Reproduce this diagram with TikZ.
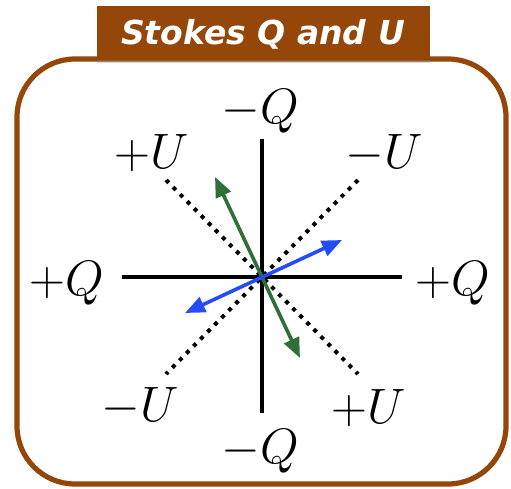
\documentclass[tikz,border=0pt]{standalone}
\usepackage{fontspec}
\newfontfamily\titlefont{DejaVu Sans}
\usepackage{tikz}
\usetikzlibrary{arrows.meta,shadows}
\definecolor{rust}{RGB}{148,71,9}
\definecolor{fern}{RGB}{46,112,58}
\definecolor{azure}{RGB}{37,76,250}
\tikzset{
  frame/.style={draw=rust,line width=2.6pt,rounded corners=29pt,fill=white,
    drop shadow={shadow xshift=1pt,shadow yshift=-1pt,opacity=0.25}},
  titlebar/.style={fill=rust,draw=none,
    drop shadow={shadow xshift=0pt,shadow yshift=-1.5pt,opacity=0.3}},
  axisline/.style={line width=2pt,black},
  diagline/.style={line width=2pt,black,dash pattern=on 2pt off 3pt},
  pol/.style={line width=1.8pt,{Triangle[length=10pt,width=8pt]}-{Triangle[length=10pt,width=8pt]}},
  lbl/.style={font=\fontsize{24.88}{28}\selectfont,inner sep=0pt,anchor=base}
}

\begin{document}
\begin{tikzpicture}[x=0.5pt,y=-0.5pt]
  \useasboundingbox (0,0) rectangle (511,489);
  % frame and title
  \draw[frame] (17,59) rectangle (506,484);
  \fill[titlebar] (97,6) rectangle (430,60);
  \node[text=white,font=\titlefont\bfseries\itshape\fontsize{16.5}{18}\selectfont]
    (title) at (263,34) {Stokes Q and U};
  % axes
  \coordinate (o) at (262,277);
  \coordinate (qt) at (262,139);
  \coordinate (qb) at (262,413);
  \coordinate (ql) at (122,277);
  \coordinate (qr) at (402,277);
  \coordinate (ua) at (166,180);
  \coordinate (ub) at (358,374);
  \coordinate (uc) at (358,180);
  \coordinate (ud) at (166,374);
  \draw[axisline] (qt)--(qb);
  \draw[axisline] (ql)--(qr);
  \draw[diagline] (ua)--(ub);
  \draw[diagline] (uc)--(ud);
  % polarisation vectors
  \coordinate (g1) at (215,177);
  \coordinate (g2) at (300,358);
  \coordinate (b1) at (342,240);
  \coordinate (b2) at (185,313);
  \draw[pol,fern] (g2)--(g1);
  \draw[pol,azure] (b2)--(b1);
  % labels
  \node[lbl] (mqtop) at (260,123) {$-Q$};
  \node[lbl] (mqbot) at (260,463) {$-Q$};
  \node[lbl] (pqleft) at (67,295) {$+Q$};
  \node[lbl] (pqright) at (453,295) {$+Q$};
  \node[lbl] (putl) at (152,168) {$+U$};
  \node[lbl] (mutr) at (384,168) {$-U$};
  \node[lbl] (mubl) at (140,421) {$-U$};
  \node[lbl] (pubr) at (369,423) {$+U$};
\end{tikzpicture}
\end{document}
